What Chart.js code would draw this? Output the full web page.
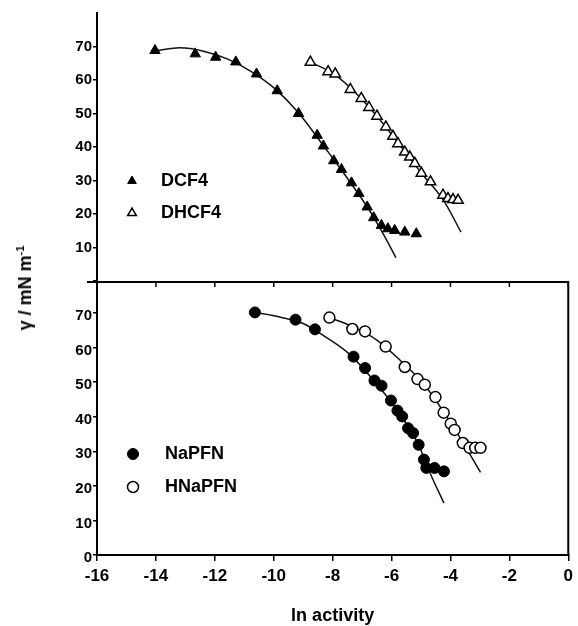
<!DOCTYPE html>
<html><head><meta charset="utf-8">
<script src="https://cdn.jsdelivr.net/npm/chart.js@4.4.1/dist/chart.umd.min.js"></script>
<style>
html,body{margin:0;padding:0;background:#fff;}
#wrap{position:relative;width:578px;height:626px;overflow:hidden;}
canvas{position:absolute;left:0;top:0;}
#ytitle{position:absolute;left:25px;top:288px;transform:translate(-50%,-50%) rotate(-90deg);font:bold 18px "Liberation Sans",Arial,sans-serif;white-space:nowrap;color:#000;}
#ytitle sup{font-size:11px;vertical-align:7px;}
</style></head><body>
<div id="wrap">
<canvas id="cTop" width="578" height="626"></canvas>
<canvas id="cBot" width="578" height="626"></canvas>
<div id="ytitle">γ / mN m<sup>-1</sup></div>
</div>
<script>
// ---------- data ----------
const xTicks = [-16, -14, -12, -10, -8, -6, -4, -2, 0];
const yTicksTop = [0, 10, 20, 30, 40, 50, 60, 70];
const yTicksBottom = [0, 10, 20, 30, 40, 50, 60, 70];
const xTitle = 'ln activity';

const dcf4X = [-14.04, -12.68, -11.99, -11.31, -10.61, -9.91, -9.19, -8.56, -8.35, -8.0, -7.74, -7.4, -7.15, -6.87, -6.65, -6.39, -6.17, -5.94, -5.6, -5.21];
const dcf4Y = [68.8, 67.8, 66.8, 65.4, 61.8, 56.8, 50.0, 43.5, 40.3, 35.9, 33.3, 29.3, 26.1, 22.1, 18.9, 16.6, 15.6, 15.1, 14.6, 14.1];
const dcf4FitX = [-14.0, -13.2, -12.4, -11.6, -10.8, -10.0, -9.2, -8.4, -7.6, -6.8, -6.3, -5.9];
const dcf4FitY = [68.8, 69.6, 68.6, 66.3, 62.6, 57.5, 50.3, 41.0, 31.4, 21.2, 13.6, 7.0];

const dhcf4X = [-8.79, -8.19, -7.95, -7.44, -7.07, -6.81, -6.54, -6.24, -6.0, -5.83, -5.6, -5.43, -5.26, -5.04, -4.73, -4.31, -4.14, -3.97, -3.8];
const dhcf4Y = [65.3, 62.5, 61.8, 57.2, 54.5, 51.8, 49.2, 46.0, 43.2, 41.0, 38.5, 37.0, 35.1, 32.2, 29.6, 25.6, 24.6, 24.3, 24.1];
const dhcf4FitX = [-8.8, -8.0, -7.2, -6.4, -5.6, -5.0, -4.3, -3.7];
const dhcf4FitY = [65.4, 61.8, 55.6, 47.7, 38.6, 31.8, 24.2, 14.6];

const napfnX = [-10.64, -9.26, -8.6, -7.29, -6.9, -6.58, -6.34, -6.02, -5.8, -5.64, -5.44, -5.27, -5.08, -4.9, -4.82, -4.54, -4.22];
const napfnY = [70.2, 68.1, 65.3, 57.4, 54.1, 50.5, 49.0, 44.7, 41.8, 40.1, 36.7, 35.3, 31.9, 27.6, 25.2, 25.2, 24.2];
const napfnFitX = [-10.64, -9.8, -9.0, -8.2, -7.4, -6.6, -5.8, -5.1, -4.64, -4.22];
const napfnFitY = [70.2, 68.9, 67.0, 62.9, 57.9, 50.4, 41.8, 32.2, 22.7, 15.0];

const hnapfnX = [-8.11, -7.33, -6.9, -6.2, -5.55, -5.12, -4.87, -4.51, -4.23, -3.99, -3.86, -3.58, -3.35, -3.16, -2.98];
const hnapfnY = [68.7, 65.4, 64.7, 60.3, 54.4, 50.9, 49.3, 45.7, 41.2, 38.0, 36.2, 32.4, 31.0, 31.0, 31.0];
const hnapfnFitX = [-8.11, -7.3, -6.5, -5.7, -4.9, -4.2, -3.6, -2.98];
const hnapfnFitY = [68.7, 66.0, 62.2, 56.3, 49.4, 41.0, 32.9, 23.9];

// ---------- helpers ----------
const pts = (xs, ys) => xs.map((x, i) => ({x: x, y: ys[i]}));
const FONT = '"Liberation Sans", Arial, Helvetica, sans-serif';
Chart.defaults.font.family = FONT;
Chart.defaults.font.weight = 'bold';
Chart.defaults.color = '#000';

function scatterDs(label, xs, ys, style, filled) {
  return {
    type: 'scatter', label: label, data: pts(xs, ys), order: 0,
    pointStyle: style, pointRadius: style === 'triangle' ? 6 : 5.5,
    pointBackgroundColor: filled ? '#000' : '#fff',
    pointBorderColor: '#000', pointBorderWidth: filled ? 1 : 1.5,
    backgroundColor: filled ? '#000' : '#fff', borderColor: '#000', showLine: false
  };
}
function fitDs(label, xs, ys) {
  return {
    type: 'line', label: label, data: pts(xs, ys), order: 1,
    borderColor: '#111', borderWidth: 1.5, pointRadius: 0, fill: false,
    cubicInterpolationMode: 'monotone'
  };
}

const inlineLegend = {
  id: 'inlineLegend',
  afterDatasetsDraw(chart, args, opts) {
    if (!opts || !opts.items) return;
    const ctx = chart.ctx;
    ctx.save();
    opts.items.forEach(it => {
      const ds = chart.data.datasets[it.index];
      ctx.fillStyle = ds.pointBackgroundColor;
      ctx.strokeStyle = ds.pointBorderColor;
      ctx.lineWidth = ds.pointBorderWidth;
      Chart.helpers.drawPoint(ctx, {pointStyle: ds.pointStyle, radius: opts.markerRadius, rotation: 0, borderWidth: ds.pointBorderWidth}, it.mx, it.y);
      ctx.fillStyle = '#000';
      ctx.font = 'bold ' + opts.fontSize + 'px ' + FONT;
      ctx.textBaseline = 'middle';
      ctx.textAlign = 'left';
      ctx.fillText(ds.label, it.tx, it.y);
    });
    ctx.restore();
  }
};

const frame = {
  id: 'frame',
  afterDraw(chart, args, opts) {
    if (!opts || !opts.on) return;
    const {ctx, chartArea: {left, right, top, bottom}} = chart;
    const xs = chart.scales.x;
    ctx.save();
    ctx.strokeStyle = '#000';
    ctx.lineWidth = 2;
    ctx.beginPath();
    ctx.moveTo(left - 10, top); ctx.lineTo(right + 1, top);
    ctx.moveTo(right, top); ctx.lineTo(right, bottom + 1);
    ctx.stroke();
    ctx.lineWidth = 1.5;
    xs.ticks.forEach(t => {
      const px = xs.getPixelForValue(t.value);
      ctx.beginPath(); ctx.moveTo(px, top); ctx.lineTo(px, top + 5); ctx.stroke();
    });
    ctx.restore();
  }
};

const yAxisCommon = (ticksArr, maxV, labelOffset) => ({
  type: 'linear', min: 0, max: maxV,
  afterFit(s) { s.width = 97; },
  afterBuildTicks(s) { s.ticks = ticksArr.map(v => ({value: v})); },
  ticks: {font: {size: 15, weight: 'bold'}, color: '#000', padding: 1, labelOffset: labelOffset},
  grid: {drawOnChartArea: false, drawTicks: true, tickLength: 4, color: '#000', lineWidth: 1.5},
  border: {display: true, color: '#000', width: 2}
});

// ---------- top panel ----------
const yTop = yAxisCommon(yTicksTop, 80, 0);
yTop.ticks.callback = v => (v === 0 ? '' : String(v));
new Chart(document.getElementById('cTop'), {
  type: 'scatter',
  data: {datasets: [
    scatterDs('DCF4', dcf4X, dcf4Y, 'triangle', true),
    scatterDs('DHCF4', dhcf4X, dhcf4Y, 'triangle', false),
    fitDs('DCF4 fit', dcf4FitX, dcf4FitY),
    fitDs('DHCF4 fit', dhcf4FitX, dhcf4FitY)
  ]},
  options: {
    responsive: false, animation: false, devicePixelRatio: 1,
    layout: {padding: {left: 0, top: 13, right: 7, bottom: 345}},
    scales: {
      x: {type: 'linear', min: -16, max: 0, display: false},
      y: yTop
    },
    plugins: {
      legend: {display: false}, tooltip: {enabled: false},
      inlineLegend: {markerRadius: 5, fontSize: 18, items: [
        {index: 0, mx: 132, tx: 161, y: 181},
        {index: 1, mx: 132, tx: 161, y: 213}
      ]}
    }
  },
  plugins: [inlineLegend]
});

// ---------- bottom panel ----------
const yBot = yAxisCommon(yTicksBottom, 79, 3);
new Chart(document.getElementById('cBot'), {
  type: 'scatter',
  data: {datasets: [
    scatterDs('NaPFN', napfnX, napfnY, 'circle', true),
    scatterDs('HNaPFN', hnapfnX, hnapfnY, 'circle', false),
    fitDs('NaPFN fit', napfnFitX, napfnFitY),
    fitDs('HNaPFN fit', hnapfnFitX, hnapfnFitY)
  ]},
  options: {
    responsive: false, animation: false, devicePixelRatio: 1,
    layout: {padding: {left: 0, top: 282, right: 7, bottom: 0}},
    scales: {
      x: {
        type: 'linear', min: -16, max: 0, position: 'bottom',
        afterFit(s) { s.height = 71; },
        afterBuildTicks(s) { s.ticks = xTicks.map(v => ({value: v})); },
        ticks: {font: {size: 17, weight: 'bold'}, color: '#000', padding: 5, maxRotation: 0, autoSkip: false},
        grid: {drawOnChartArea: false, drawTicks: true, tickLength: 6, color: '#000', lineWidth: 1.5},
        border: {display: true, color: '#000', width: 2},
        title: {display: true, text: xTitle, color: '#000', padding: 0, font: {size: 18, weight: 'bold', lineHeight: 1.1}}
      },
      y: yBot
    },
    plugins: {
      legend: {display: false}, tooltip: {enabled: false},
      frame: {on: true},
      inlineLegend: {markerRadius: 5.5, fontSize: 18, items: [
        {index: 0, mx: 133, tx: 165, y: 454},
        {index: 1, mx: 133, tx: 165, y: 487}
      ]}
    }
  },
  plugins: [inlineLegend, frame]
});
</script>
</body></html>
